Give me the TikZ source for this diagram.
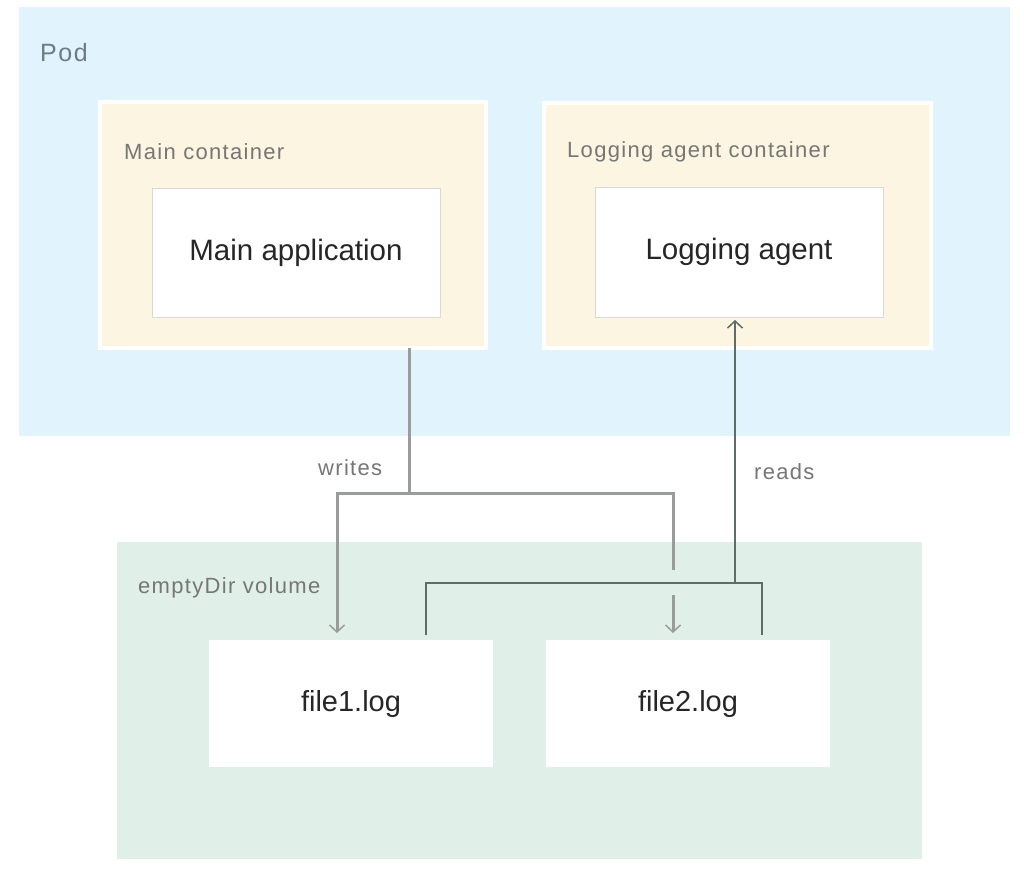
\documentclass[tikz,border=0pt]{standalone}
\usepackage{fontspec}
\setmainfont{Liberation Sans}
\newfontfamily\lblfont[LetterSpace=6]{Liberation Sans}
\usetikzlibrary{arrows.meta}
\definecolor{podbg}{HTML}{E1F3FD}
\definecolor{contbg}{HTML}{FCF5E2}
\definecolor{volbg}{HTML}{E0F0E9}
\definecolor{lblgray}{HTML}{767676}
\definecolor{podgray}{HTML}{6F7B82}
\definecolor{maintext}{HTML}{262626}
\definecolor{wcol}{HTML}{9A9C9C}
\definecolor{rcol}{HTML}{5E6D68}
\definecolor{boxedge}{HTML}{D9D9D9}
\begin{document}
\begin{tikzpicture}[x=1pt,y=-1pt,
  region/.style={anchor=north west, inner sep=0pt, outer sep=0pt},
  contbox/.style={region, fill=contbg, draw=white, line width=4pt},
  appbox/.style={region, fill=white, draw=boxedge, line width=1pt, font=\fontsize{29.5}{32}\selectfont, text=maintext},
  filebox/.style={region, fill=white, draw=none, font=\fontsize{29}{32}\selectfont, text=maintext},
  lbl/.style={anchor=west, inner sep=0pt, font=\lblfont\fontsize{22}{25}\selectfont, text=lblgray},
  tip/.tip={Straight Barb[length=7pt,width=15pt,line width=1.5pt]},
  wline/.style={draw=wcol, line width=3pt},
  rline/.style={draw=rcol, line width=2pt}
]
\useasboundingbox (0,0) rectangle (1024,879);
\fill[white] (0,0) rectangle (1024,879);

% Pod
\node[region, fill=podbg, minimum width=991pt, minimum height=429pt] (pod) at (19,7) {};
\node[lbl, font=\lblfont\fontsize{25}{28}\selectfont, text=podgray] (podlbl) at (40,53) {Pod};

% containers
\node[contbox, minimum width=386pt, minimum height=246pt] (maincont) at (100,102) {};
\node[lbl] (maincontlbl) at (124,152) {Main container};
\node[appbox, minimum width=288pt, minimum height=129pt] (mainapp) at (152,188) {Main application};

\node[contbox, minimum width=387pt, minimum height=245pt] (logcont) at (544,103) {};
\node[lbl] (logcontlbl) at (567,152) {Logging agent container};
\node[appbox, minimum width=288pt, minimum height=130pt] (logagent) at (595,187) {Logging agent};

% volume
\node[region, fill=volbg, minimum width=805pt, minimum height=317pt] (vol) at (117,542) {};
\node[lbl] (vollbl) at (138,588) {emptyDir volume};
\node[filebox, minimum width=284pt, minimum height=127pt] (file1) at (209,640) {file1.log};
\node[filebox, minimum width=284pt, minimum height=127pt] (file2) at (546,640) {file2.log};

% connector junctions
\coordinate (wj) at (409,493);
\coordinate (wl) at (337,493);
\coordinate (wr) at (673,493);
\coordinate (wgapt) at (673,570);
\coordinate (wgapb) at (673,595);
\coordinate (rl) at (426,583);
\coordinate (rr) at (762,583);
\coordinate (rj) at (735,583);

% writes
\draw[wline] (maincont.south -| wj) -- (wj);
\draw[wline, -{tip}, shorten >=7pt] (wj) -- (wl) -- (wl |- file1.north);
\draw[wline] (wj) -- (wr) -- (wgapt);
\draw[wline, -{tip}, shorten >=7pt] (wgapb) -- (wgapb |- file2.north);
\node[lbl] (writeslbl) at (318,468) {writes};

% reads
\draw[rline, shorten <=5pt, shorten >=5pt] (file1.north -| rl) -- (rl) -- (rr) -- (file2.north -| rr);
\draw[rline, line width=1.6pt, -{tip}, shorten >=3pt] (rj) -- (logagent.south -| rj);
\node[lbl] (readslbl) at (754,472) {reads};
\end{tikzpicture}
\end{document}
